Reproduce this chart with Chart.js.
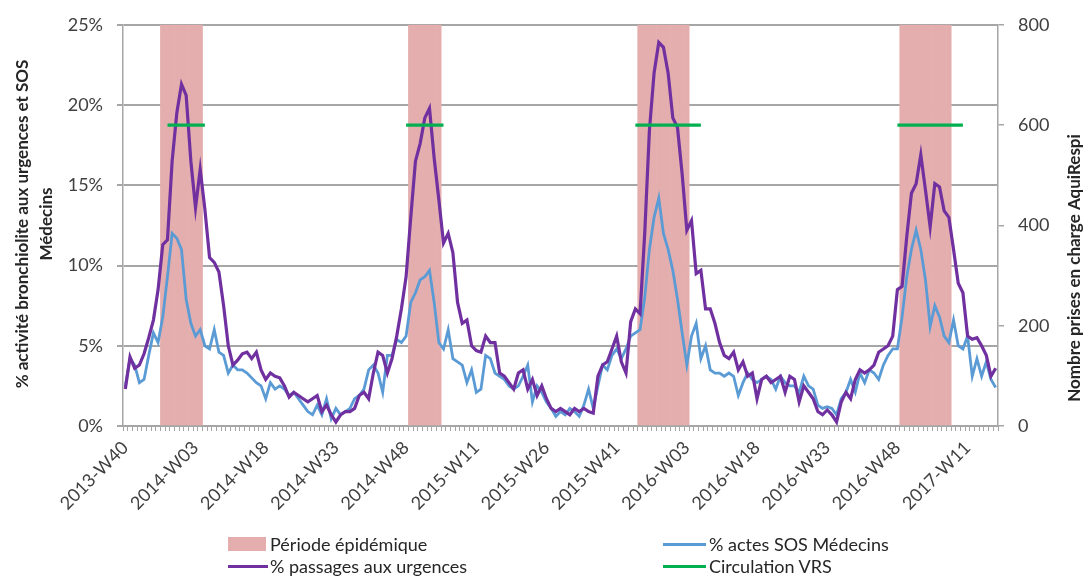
<!DOCTYPE html>
<html><head><meta charset="utf-8">
<script src="https://cdn.jsdelivr.net/npm/chart.js@4/dist/chart.umd.min.js"></script>
<style>
html,body{margin:0;padding:0;background:#fff;}
#wrap{position:relative;width:1084px;height:576px;overflow:hidden;}
canvas{position:absolute;left:0;top:0;}
.lg{position:absolute;font:18px Lato, sans-serif;color:#262626;line-height:20px;white-space:nowrap;}
.sw{position:absolute;}
</style></head><body>
<div id="wrap">
<canvas id="c" width="1084" height="576"></canvas>
<div class="sw" style="left:228px;top:537px;width:38px;height:14px;background:#E4AEAE"></div>
<div class="lg" style="left:270px;top:534px">Période épidémique</div>
<div class="sw" style="left:228px;top:565px;width:40px;height:3px;background:#7030A0"></div>
<div class="lg" style="left:270px;top:556px">% passages aux urgences</div>
<div class="sw" style="left:663px;top:543px;width:43px;height:3px;background:#5B9BD5"></div>
<div class="lg" style="left:709px;top:534px">% actes SOS Médecins</div>
<div class="sw" style="left:663px;top:565px;width:43px;height:3px;background:#00B050"></div>
<div class="lg" style="left:709px;top:556px">Circulation VRS</div>
</div>
<script>
// ---- data ----
const firstWeek = [2013, 40];
const weeksPerYear = {2013: 52, 2014: 52, 2015: 53, 2016: 52, 2017: 52};
const nWeeks = 187;
const tickLabels = ['2013-W40','2014-W03','2014-W18','2014-W33','2014-W48','2015-W11','2015-W26','2015-W41','2016-W03','2016-W18','2016-W33','2016-W48','2017-W11'];

const passagesUrgences = [
 2.3,4.3,3.6,3.8,4.5,5.5,6.6,8.5,11.3,11.6,16.5,19.5,21.3,20.6,16.5,13.6,16.0,13.5,10.5,10.2,
 9.6,7.5,5.0,3.8,4.1,4.5,4.6,4.2,4.6,3.5,2.9,3.3,3.1,3.0,2.5,1.8,2.1,1.9,1.7,1.5,
 1.7,1.9,0.9,1.3,0.7,0.25,0.7,0.9,0.9,1.1,1.9,2.1,1.7,3.3,4.6,4.4,3.3,4.2,5.6,7.3,
 9.3,13.0,16.5,17.6,19.2,19.8,16.7,14.1,11.4,12.0,10.8,7.7,6.4,6.6,5.0,4.7,4.6,5.6,5.2,5.2,
 3.3,3.1,2.7,2.3,3.3,3.5,2.3,2.9,1.9,2.5,1.7,1.1,0.9,1.1,0.9,0.7,1.1,0.9,1.1,0.9,
 0.8,3.1,3.8,4.0,4.8,5.6,4.0,3.3,6.5,7.3,7.0,12.0,18.4,22.0,23.9,23.6,22.0,19.2,18.6,15.7,
 12.2,12.8,9.5,9.7,7.3,7.3,6.4,5.2,4.4,4.2,4.6,3.5,4.0,3.1,3.3,1.7,2.9,3.1,2.7,2.9,
 3.1,2.1,3.1,2.9,1.5,2.5,2.1,1.7,0.9,0.7,1.0,0.7,0.25,1.5,2.1,1.7,2.9,3.5,3.3,3.5,
 3.8,4.6,4.8,5.0,5.6,8.5,8.7,11.8,14.5,15.1,16.9,14.7,12.4,15.1,14.9,13.4,13.0,11.0,8.9,8.3,
 5.6,5.4,5.5,5.0,4.4,3.1,3.6
];
const actesSOS = [
 2.5,4.2,3.8,2.7,2.9,4.4,5.8,5.2,6.8,9.3,12.0,11.7,11.0,7.9,6.4,5.6,6.0,5.0,4.8,6.0,
 4.6,4.4,3.3,3.8,3.5,3.5,3.3,3.0,2.7,2.5,1.7,2.7,2.3,2.5,2.3,1.9,2.1,1.7,1.3,0.9,
 0.7,1.3,0.7,1.7,0.45,1.1,0.7,0.9,1.1,1.7,1.9,2.3,3.5,3.8,3.3,2.1,4.4,4.4,5.4,5.2,
 5.6,7.7,8.3,9.1,9.3,9.7,7.7,5.2,4.8,6.0,4.2,4.0,3.8,2.7,3.5,2.1,2.3,4.4,4.2,3.3,
 3.1,2.9,2.5,2.3,2.5,3.1,3.8,1.5,2.5,2.1,1.5,1.1,0.6,0.9,0.7,1.1,0.9,0.6,1.3,2.3,
 1.1,2.5,3.8,3.5,4.4,4.8,4.2,4.8,5.6,5.8,6.0,8.0,11.0,13.0,14.2,12.0,11.0,9.7,7.9,5.8,
 3.8,5.6,6.4,4.2,5.0,3.5,3.3,3.3,3.1,3.3,3.1,1.9,2.7,3.3,2.9,2.7,2.9,3.1,2.9,2.3,
 3.1,2.7,2.5,2.5,2.1,3.1,2.5,2.3,1.3,1.1,1.2,1.1,0.7,1.7,2.1,2.9,2.1,3.3,2.7,3.5,
 3.3,2.9,3.8,4.4,4.8,4.8,6.8,9.3,11.0,12.2,11.0,9.1,6.2,7.5,6.8,5.6,5.2,6.6,5.0,4.8,
 5.6,3.1,4.2,3.1,4.0,2.9,2.4
];
const epidemicPeriods = [['2013-W48','2014-W04'],['2014-W49','2015-W03'],['2015-W46','2016-W03'],['2016-W49','2017-W07']];
const vrsPeriods = [['2013-W49','2014-W05'],['2014-W48','2015-W04'],['2015-W45','2016-W06'],['2016-W48','2017-W10']];
const vrsLevel = 600;
const epidemicLevel = 25;

// ---- build labels ----
const weeks = [];
{
  let y = firstWeek[0], w = firstWeek[1];
  for (let i = 0; i < nWeeks; i++) {
    weeks.push(y + '-W' + String(w).padStart(2, '0'));
    w++; if (w > weeksPerYear[y]) { w = 1; y++; }
  }
}
function spanSeries(periods, value) {
  const arr = weeks.map(() => null);
  periods.forEach(([a, b]) => {
    const s = weeks.indexOf(a), e = weeks.indexOf(b);
    for (let i = s; i <= e; i++) arr[i] = value;
  });
  return arr;
}
const epidemicData = spanSeries(epidemicPeriods, epidemicLevel);
const vrsData = spanSeries(vrsPeriods, vrsLevel);

const FONT = 'Lato';
const gridCol = '#a6a6a6';
const titlePlugin = {
  id: 'axisTitles',
  afterDraw(chart) {
    const ctx = chart.ctx;
    ctx.save();
    ctx.fillStyle = '#262626';
    ctx.font = 'bold 17px ' + FONT;
    ctx.textAlign = 'center';
    ctx.textBaseline = 'middle';
    ctx.translate(23, 224); ctx.rotate(-Math.PI / 2);
    ctx.fillText('% activité bronchiolite aux urgences et SOS', 0, 0);
    ctx.fillText('Médecins', 0, 24);
    ctx.restore();
    ctx.save();
    ctx.fillStyle = '#262626';
    ctx.font = 'bold 17px ' + FONT;
    ctx.textAlign = 'center';
    ctx.textBaseline = 'middle';
    ctx.translate(1075, 268); ctx.rotate(-Math.PI / 2);
    ctx.fillText('Nombre prises en charge AquiRespi', 0, 0);
    ctx.restore();
  }
};

new Chart(document.getElementById('c'), {
  type: 'bar',
  data: {
    labels: weeks,
    datasets: [
      { type: 'line', label: '% passages aux urgences', data: passagesUrgences, borderColor: '#7030A0', borderWidth: 3.2, pointRadius: 0, yAxisID: 'y', order: 2 },
      { type: 'line', label: '% actes SOS Médecins', data: actesSOS, borderColor: '#5B9BD5', borderWidth: 2.8, pointRadius: 0, yAxisID: 'y', order: 3 },
      { type: 'line', label: 'Circulation VRS', data: vrsData, borderColor: '#00B050', borderWidth: 3.2, pointRadius: 0, yAxisID: 'y1', spanGaps: false, order: 1 },
      { type: 'bar', label: 'Période épidémique', data: epidemicData, backgroundColor: '#E4AEAE', borderWidth: 0, barPercentage: 1, categoryPercentage: 1, yAxisID: 'y', order: 10 }
    ]
  },
  options: {
    responsive: false,
    animation: false,
    layout: { padding: { top: 20, right: 0, left: 0, bottom: 0 } },
    plugins: { legend: { display: false }, tooltip: { enabled: false } },
    scales: {
      x: {
        offset: true,
        grid: { offset: true, drawOnChartArea: false, drawTicks: true, tickLength: 5, color: gridCol, lineWidth: 1 },
        border: { display: true, color: gridCol, width: 2 },
        ticks: {
          autoSkip: false, minRotation: 45, maxRotation: 45, padding: 6,
          color: '#404040', font: { family: FONT, size: 18 },
          callback: function (v, i) { const l = weeks[i]; return tickLabels.includes(l) ? l : ''; }
        },
        afterFit(s) { s.height = 150; }
      },
      y: {
        position: 'left', min: 0, max: 25,
        ticks: { stepSize: 5, padding: 14, color: '#404040', font: { family: FONT, size: 18 }, callback: v => v + '%' },
        grid: { color: gridCol, lineWidth: 2, tickLength: 6 },
        border: { display: true, color: gridCol, width: 1.5 },
        afterFit(s) { s.width = 123; }
      },
      y1: {
        position: 'right', min: 0, max: 800,
        ticks: { stepSize: 200, padding: 14, color: '#404040', font: { family: FONT, size: 18 } },
        grid: { drawOnChartArea: false, color: gridCol, lineWidth: 1.5, tickLength: 6 },
        border: { display: true, color: gridCol, width: 1.5 },
        afterFit(s) { s.width = 86; }
      }
    }
  },
  plugins: [titlePlugin]
});
</script>
</body></html>
